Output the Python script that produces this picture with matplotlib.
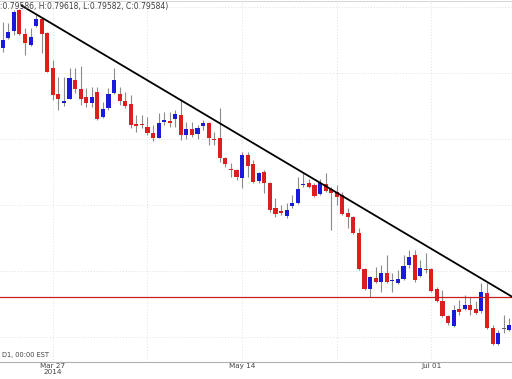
import pandas as pd
import matplotlib
matplotlib.use("Agg")
import matplotlib.pyplot as plt

# daily candles, 14 Mar 2014 .. 21 Jul 2014
dates = pd.bdate_range("2014-03-14", periods=92)

opens = [0.8338, 0.8353, 0.8364, 0.8395, 0.8359, 0.8342, 0.8371, 0.8382, 0.8361, 0.8308,
         0.8268, 0.8255, 0.8261, 0.8289, 0.8276, 0.8263, 0.8255, 0.8271, 0.8233, 0.8247,
         0.8270, 0.8268, 0.8258, 0.8253, 0.8223, 0.8222, 0.8218, 0.8209, 0.8202, 0.8226,
         0.8227, 0.8230, 0.8236, 0.8206, 0.8215, 0.8208, 0.8220, 0.8224, 0.8200, 0.8202,
         0.8171, 0.8155, 0.8153, 0.8141, 0.8176, 0.8162, 0.8136, 0.8150, 0.8133, 0.8095,
         0.8091, 0.8083, 0.8098, 0.8103, 0.8130, 0.8133, 0.8130, 0.8117, 0.8132, 0.8124,
         0.8120, 0.8115, 0.8088, 0.8082, 0.8057, 0.8003, 0.7973, 0.7989, 0.7983, 0.7997,
         0.7985, 0.7982, 0.7988, 0.8009, 0.8024, 0.7992, 0.8003, 0.8003, 0.7973, 0.7955,
         0.7932, 0.7917, 0.7942, 0.7942, 0.7948, 0.7942, 0.7939, 0.7967, 0.7914, 0.7889,
         0.7912, 0.7911]
highs = [0.8377, 0.8376, 0.8396, 0.8397, 0.8368, 0.8368, 0.8388, 0.8383, 0.8362, 0.8320,
         0.8294, 0.8294, 0.8308, 0.8308, 0.8311, 0.8277, 0.8279, 0.8279, 0.8256, 0.8277,
         0.8308, 0.8279, 0.8271, 0.8267, 0.8236, 0.8236, 0.8233, 0.8221, 0.8239, 0.8241,
         0.8241, 0.8244, 0.8261, 0.8226, 0.8226, 0.8221, 0.8229, 0.8226, 0.8211, 0.8247,
         0.8173, 0.8164, 0.8154, 0.8180, 0.8180, 0.8168, 0.8150, 0.8153, 0.8135, 0.8111,
         0.8100, 0.8103, 0.8115, 0.8142, 0.8148, 0.8140, 0.8133, 0.8140, 0.8148, 0.8127,
         0.8130, 0.8120, 0.8095, 0.8083, 0.8065, 0.8005, 0.7992, 0.8006, 0.8009, 0.8024,
         0.7997, 0.8002, 0.8024, 0.8032, 0.8032, 0.8017, 0.8027, 0.8005, 0.7976, 0.7971,
         0.7933, 0.7949, 0.7956, 0.7964, 0.7961, 0.7955, 0.7982, 0.7982, 0.7918, 0.7911,
         0.7933, 0.7929]
lows = [0.8332, 0.8352, 0.8358, 0.8358, 0.8327, 0.8341, 0.8370, 0.8330, 0.8301, 0.8259,
        0.8244, 0.8250, 0.8260, 0.8270, 0.8252, 0.8249, 0.8249, 0.8229, 0.8232, 0.8244,
        0.8268, 0.8252, 0.8247, 0.8217, 0.8211, 0.8217, 0.8206, 0.8197, 0.8201, 0.8221,
        0.8218, 0.8218, 0.8199, 0.8200, 0.8203, 0.8200, 0.8214, 0.8191, 0.8191, 0.8165,
        0.8158, 0.8142, 0.8138, 0.8126, 0.8142, 0.8133, 0.8133, 0.8118, 0.8089, 0.8082,
        0.8085, 0.8080, 0.8095, 0.8101, 0.8127, 0.8126, 0.8112, 0.8115, 0.8120, 0.8062,
        0.8100, 0.8085, 0.8065, 0.8056, 0.8002, 0.7971, 0.7961, 0.7982, 0.7968, 0.7982,
        0.7968, 0.7981, 0.7986, 0.8005, 0.7983, 0.7991, 0.7997, 0.7968, 0.7953, 0.7930,
        0.7918, 0.7915, 0.7933, 0.7941, 0.7933, 0.7935, 0.7937, 0.7912, 0.7888, 0.7888,
        0.7906, 0.7909]
closes = [0.8350, 0.8362, 0.8392, 0.8359, 0.8345, 0.8355, 0.8382, 0.8359, 0.8302, 0.8266,
          0.8261, 0.8258, 0.8292, 0.8276, 0.8261, 0.8255, 0.8264, 0.8230, 0.8245, 0.8268,
          0.8289, 0.8258, 0.8250, 0.8221, 0.8220, 0.8221, 0.8209, 0.8202, 0.8224, 0.8229,
          0.8224, 0.8238, 0.8206, 0.8215, 0.8206, 0.8217, 0.8224, 0.8202, 0.8199, 0.8171,
          0.8162, 0.8153, 0.8142, 0.8176, 0.8159, 0.8135, 0.8148, 0.8133, 0.8092, 0.8086,
          0.8088, 0.8092, 0.8103, 0.8124, 0.8132, 0.8127, 0.8114, 0.8133, 0.8121, 0.8118,
          0.8112, 0.8086, 0.8082, 0.8057, 0.8003, 0.7973, 0.7991, 0.7983, 0.7997, 0.7983,
          0.7986, 0.7988, 0.8008, 0.8021, 0.7986, 0.8005, 0.8002, 0.7970, 0.7955, 0.7932,
          0.7921, 0.7941, 0.7938, 0.7948, 0.7941, 0.7936, 0.7968, 0.7914, 0.7889, 0.7906,
          0.7912, 0.7918]

label_dates = ["2014-03-27", "2014-05-14", "2014-07-01"]
label_text = ["Mar 27\n2014", "May 14", "Jul 01"]
grid_dates = ["2014-03-27", "2014-04-21", "2014-05-14", "2014-06-06", "2014-07-01"]
grid_prices = [0.79, 0.80, 0.81, 0.82, 0.83, 0.84]

trend_prices = [0.8402, 0.7961]
trend_pos = [3.4, 91.5]   # fractional bar positions of the drawn ray
level_price = 0.7960

header = ":0.79586, H:0.79618, L:0.79582, C:0.79584)"

df = pd.DataFrame({"open": opens, "high": highs, "low": lows, "close": closes}, index=dates)
pos = {d: i for i, d in enumerate(df.index)}

fig = plt.figure(figsize=(5.12, 3.79), dpi=100)
ax = fig.add_axes([0, 17 / 379, 1, 361 / 379])

for d in grid_dates:
    ax.axvline(pos[pd.Timestamp(d)], color="#e0e0e0", lw=0.7, ls=(0, (1, 2)), zorder=0)
for p in grid_prices:
    ax.axhline(p, color="#e0e0e0", lw=0.7, ls=(0, (1, 2)), zorder=0)

for i, (o, h, l, c) in enumerate(df.itertuples(index=False)):
    if c > o:
        col = "#1a1adc"
    elif c < o:
        col = "#dc1e1e"
    else:
        col = "#606060"
    ax.vlines(i, l, h, color="#8c8c8c", lw=0.8, zorder=2)
    body = max(abs(c - o), 0.00012)
    ax.bar(i, body, bottom=min(o, c), width=0.74, color=col, zorder=3, linewidth=0)

ax.axhline(level_price, color="#c81e1e", lw=0.9, zorder=4)
ax.plot(trend_pos, trend_prices, color="black", lw=1.3, zorder=5)

ax.set_xlim(-0.49, 91.49)
ax.set_ylim(0.78621, 0.84091)
ax.set_xticks([pos[pd.Timestamp(d)] for d in label_dates])
ax.set_xticklabels(label_text, fontsize=5.2, color="#444444", linespacing=0.95)
ax.tick_params(axis="x", length=0, pad=0.8)
ax.set_yticks([])
for s in ["left", "right"]:
    ax.spines[s].set_visible(False)
ax.spines["bottom"].set_color("#b0b0b0")
ax.spines["top"].set_color("#d0d0d0")
ax.spines["top"].set_linewidth(0.6)

fig.text(0.0, 1 - 7 / 379, header, fontsize=5.5, color="#404040", va="center", ha="left")
fig.text(2 / 512, 1 - 355 / 379, "D1, 00:00 EST", fontsize=4.8, color="#404040", va="center", ha="left")

fig.savefig("out.png", dpi=100)
